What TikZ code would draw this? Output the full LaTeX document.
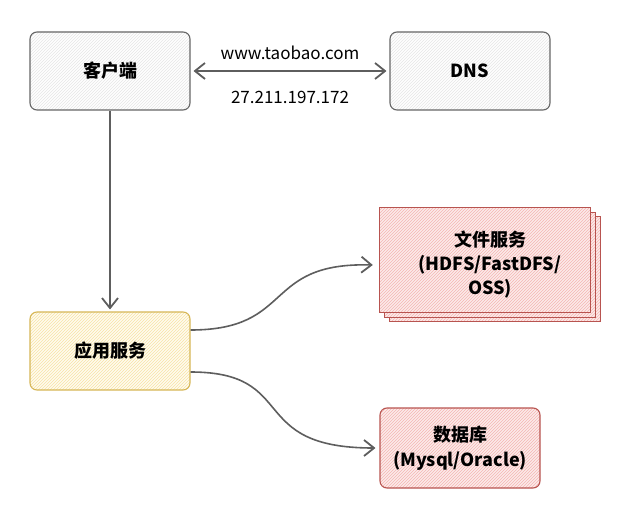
\documentclass[tikz,border=0pt]{standalone}
\usepackage{fontspec}
\setmainfont{Noto Sans CJK SC}
\usetikzlibrary{arrows.meta,patterns,backgrounds}
\definecolor{grayS}{HTML}{666666}
\definecolor{grayF}{HTML}{E6E6E6}
\definecolor{redS}{HTML}{B85450}
\definecolor{redF}{HTML}{F4B6B3}
\definecolor{redB}{HTML}{FCEBEA}
\definecolor{yelS}{HTML}{D6B656}
\definecolor{yelF}{HTML}{F7E3A6}
\definecolor{yelB}{HTML}{FFFBEF}
\definecolor{lineC}{HTML}{5E5E5E}
\tikzset{
  box/.style={rounded corners=7pt, line width=1.1pt, minimum width=160pt, minimum height=78pt,
    align=center, font=\fontsize{18}{25}\selectfont\bfseries},
  graybox/.style={box, draw=grayS, preaction={fill=white}, pattern=north east lines, pattern color=grayF},
  redbox/.style={box, draw=redS, preaction={fill=redB}, pattern=north east lines, pattern color=redF},
  yelbox/.style={box, draw=yelS, preaction={fill=yelB}, pattern=north east lines, pattern color=yelF},
  stackrect/.style={draw=redS, line width=1.1pt, preaction={fill=redB}, pattern=north east lines, pattern color=redF},
  conn/.style={draw=lineC, line width=1.6pt, -{Straight Barb[length=10pt,width=16pt,line width=1.8pt]}},
  lbl/.style={font=\fontsize{17}{19}\selectfont, text=black}
}
\begin{document}
\begin{tikzpicture}[x=1pt,y=-1pt]
\useasboundingbox (0,0) rectangle (631,518);
\node[graybox] (client) at (110,71) {客户端};
\node[graybox] (dns) at (470,71) {DNS};
\node[yelbox] (app) at (110,351) {应用服务};
\node[redbox, minimum width=160pt, minimum height=80pt] (db) at (460,448) {数据库\\(Mysql/Oracle)};
\node[align=center, minimum width=210pt, minimum height=104pt, font=\fontsize{18}{24}\selectfont\bfseries] (fs) at (490,265) {文件服务\\(HDFS/FastDFS/\\OSS)};
\begin{scope}[on background layer]
  \draw[stackrect] ([shift={(5,4)}]fs.north west) rectangle ([shift={(5,4)}]fs.south east);
  \draw[stackrect] (fs.north west) rectangle (fs.south east);
  \draw[stackrect] ([shift={(-5,-5)}]fs.north west) rectangle ([shift={(-5,-5)}]fs.south east);
\end{scope}
\draw[draw=lineC, line width=1.6pt, {Straight Barb[length=10pt,width=16pt,line width=1.8pt]}-{Straight Barb[length=10pt,width=16pt,line width=1.8pt]}]
  ([xshift=3pt]client.east) -- node[lbl, above=7pt] {www.taobao.com} node[lbl, below=16pt] {27.211.197.172} ([xshift=-3pt]dns.west);
\draw[conn] (client.south) -- ([yshift=2pt]app.north);
\draw[conn] ([yshift=21pt]app.east) .. controls (295,330) and (262,262) .. ([xshift=-12pt]fs.west);
\draw[conn] ([yshift=-21pt]app.east) .. controls (300,372) and (245,448) .. ([xshift=-4pt]db.west);
\end{tikzpicture}
\end{document}
